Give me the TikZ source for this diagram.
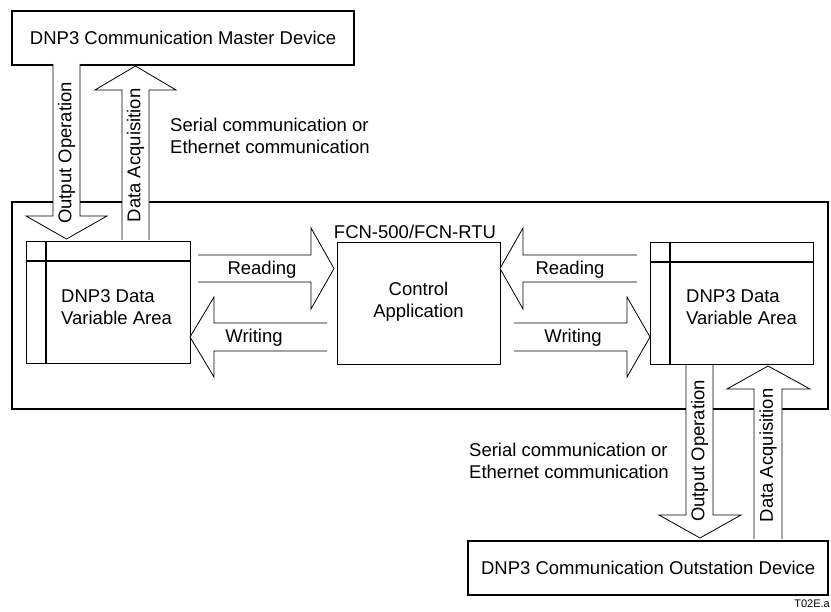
\documentclass[tikz,border=0pt]{standalone}
\usepackage{fontspec}
\setmainfont{Liberation Sans}
\begin{document}
\begin{tikzpicture}[x=1pt,y=-1pt,
  every node/.style={font=\fontsize{18.5}{22}\selectfont},
  bigbox/.style={draw, line width=2.3pt, inner sep=0pt, anchor=north west},
  areabox/.style={draw, line width=1.3pt, inner sep=0pt, anchor=north west},
  blockarrow/.style={draw, fill=white, line width=0.8pt, line join=miter},
  lbl/.style={inner sep=0pt}]
\useasboundingbox (0,0) rectangle (831,612);
% outer FCN box
\node[bigbox, minimum width=816pt, minimum height=207pt] (fcn) at (11,201) {};
% master device
\node[bigbox, minimum width=342pt, minimum height=54pt, fill=white] (master) at (11,10) {DNP3 Communication Master Device};
% outstation device
\node[bigbox, minimum width=360pt, minimum height=54pt, fill=white] (outst) at (467,540) {DNP3 Communication Outstation Device};
% top arrows
\draw[blockarrow] (53,64) -- (53,216) -- (26,216) -- (66.5,239) -- (107,216) -- (80,216) -- (80,64);
\draw[blockarrow] (122,240) -- (122,90) -- (95,90) -- (135.5,66) -- (176,90) -- (149,90) -- (149,240);
\node[lbl, rotate=90] (topout) at (66.5,153) {Output Operation};
\node[lbl, rotate=90] (topacq) at (135.5,155.5) {Data Acquisition};
\node[lbl, anchor=west, align=left] (topser) at (170,136) {Serial communication or\\Ethernet communication};
% bottom arrows
\draw[blockarrow] (686,364) -- (686,515) -- (659,515) -- (700,538) -- (741,515) -- (713,515) -- (713,364);
\draw[blockarrow] (754,539) -- (754,389) -- (727,389) -- (768,366) -- (810,389) -- (782,389) -- (782,539);
\node[lbl, rotate=90] (botout) at (699.5,451) {Output Operation};
\node[lbl, rotate=90] (botacq) at (768,455.5) {Data Acquisition};
\node[lbl, anchor=west, align=left] (botser) at (469,461) {Serial communication or\\Ethernet communication};
% left data area
\node[areabox, minimum width=164pt, minimum height=122pt] (ldata) at (26,241) {};
\draw[line width=1.3pt] (46,241) -- (46,363);
\draw[line width=1.3pt] (26,261) -- (190,261);
\node[lbl, anchor=west, align=left] (ldtext) at (61,307) {DNP3 Data\\Variable Area};
% control application
\node[areabox, minimum width=163pt, minimum height=122pt] (ctrl) at (337,242) {};
\node[lbl, align=center] (ctrltext) at (418.5,301.5) {Control\\Application};
\node[lbl] (fcnlbl) at (415,232) {FCN-500/FCN-RTU};
% right data area
\node[areabox, minimum width=163pt, minimum height=122pt] (rdata) at (650,242) {};
\draw[line width=1.3pt] (670,242) -- (670,364);
\draw[line width=1.3pt] (650,262) -- (813,262);
\node[lbl, anchor=west, align=left] (rdtext) at (686,307) {DNP3 Data\\Variable Area};
% reading / writing arrows
\draw[blockarrow] (198,255) -- (311,255) -- (311,228) -- (334,268.5) -- (311,309) -- (311,282) -- (198,282);
\node[lbl] (lread) at (262,270) {Reading};
\draw[blockarrow] (327,323) -- (214,323) -- (214,297) -- (190,337) -- (214,377) -- (214,351) -- (327,351);
\node[lbl] (lwrite) at (254,338) {Writing};
\draw[blockarrow] (637,255) -- (523,255) -- (523,228) -- (500,268.5) -- (523,309) -- (523,282) -- (637,282);
\node[lbl] (rread) at (570,270) {Reading};
\draw[blockarrow] (514,323) -- (627,323) -- (627,297) -- (650,337) -- (627,377) -- (627,351) -- (514,351);
\node[lbl] (rwrite) at (573,338) {Writing};
% figure id
\node[lbl, anchor=east, font=\fontsize{11}{13}\selectfont] (figid) at (830,604) {T02E.a};
\end{tikzpicture}
\end{document}
